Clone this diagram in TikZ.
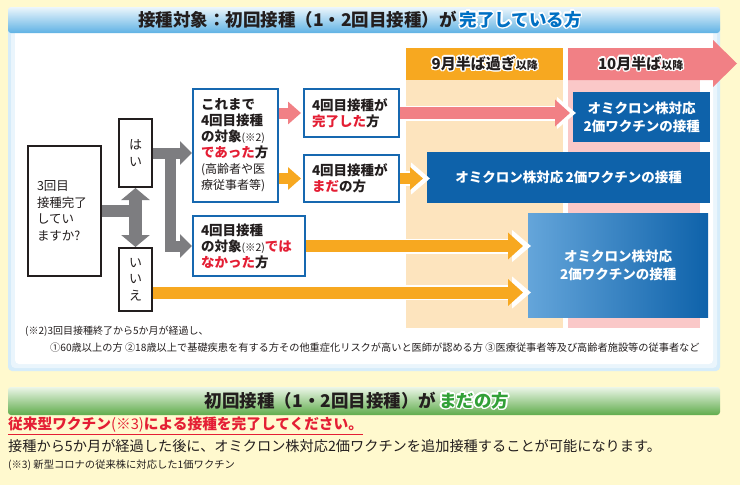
\documentclass[tikz,border=0pt]{standalone}
\usepackage{fontspec}
\setmainfont{Noto Sans CJK JP}
\usepackage{xcolor}
\usepackage[copies]{contour}
\contourlength{1.4pt}
\contournumber{16}
\usetikzlibrary{arrows.meta,calc}

\definecolor{bgyellow}{RGB}{255,249,206}
\definecolor{inkdark}{RGB}{35,30,30}
\definecolor{boxblue}{RGB}{22,104,176}
\definecolor{fillblue}{RGB}{14,98,170}
\definecolor{gradblue}{RGB}{100,165,218}
\definecolor{arrgray}{RGB}{125,125,128}
\definecolor{arrpink}{RGB}{241,128,133}
\definecolor{arrorange}{RGB}{247,168,32}
\definecolor{lightorange}{RGB}{253,228,190}
\definecolor{lightpink}{RGB}{250,200,200}
\definecolor{redtxt}{RGB}{228,30,52}
\definecolor{titleblue}{RGB}{0,112,195}
\definecolor{titlegreen}{RGB}{50,160,55}
\definecolor{paneledge}{RGB}{214,236,250}
\definecolor{panelmid}{RGB}{234,245,252}
\definecolor{bartop}{RGB}{236,246,252}
\definecolor{barbottom}{RGB}{95,178,228}
\definecolor{greentop}{RGB}{236,246,232}
\definecolor{greenbottom}{RGB}{96,172,76}

\newcommand{\notesize}{\mdseries\fontsize{10.5}{16}\selectfont}
\newcommand{\paren}{\mdseries\fontsize{12}{16}\selectfont}

\begin{document}
\begin{tikzpicture}[x=1pt,y=1pt,yscale=-1,xscale=1,
  qbox/.style={draw=inkdark, line width=2pt, fill=white, anchor=north west, inner sep=0pt, align=left, text=inkdark, font=\fontsize{12.5}{16.5}\selectfont},
  ansbox/.style={qbox, align=center, minimum width=33, text width=20, font=\fontsize{13}{16.5}\selectfont},
  casebox/.style={draw=boxblue, line width=2pt, fill=white, anchor=north west, inner sep=0pt, align=left, text=inkdark, font=\fontsize{13.5}{16}\selectfont\bfseries},
  vacbox/.style={fill=fillblue, anchor=north west, inner sep=0pt, align=center, text=white, font=\fontsize{13.5}{17.5}\selectfont\bfseries},
  colhead/.style={anchor=north west, inner sep=0pt, minimum height=32, text=inkdark, font=\fontsize{15}{15}\selectfont\bfseries},
  grayarr/.style={draw=arrgray, line width=11pt, -{Triangle[width=23pt,length=12pt]}},
  shortarr/.style={draw=#1, line width=11pt, shorten >=2pt, -{Triangle[width=22pt,length=13pt]}},
  longarr/.style={draw=#1, line width=12pt, -{Triangle[width=26pt,length=15pt]}},
  whiteedge/.style={preaction={draw=white, line width=15pt, shorten >=-3pt, -{Triangle[width=31pt,length=19pt]}}},
  note/.style={anchor=west, inner sep=0pt, text=inkdark, font=\fontsize{10}{12}\selectfont}
]
%Shape: Rectangle [background]
\fill[bgyellow] (0,0) rectangle (740,485);
\useasboundingbox (0,0) rectangle (740,485);

%Shape: Panel
\fill[paneledge, rounded corners=4] (8,18) rectangle (720,371);
\fill[panelmid, rounded corners=4] (11,21) rectangle (717,368);
\fill[white, rounded corners=4] (15,25) rectangle (713,364);

%Shape: Header bar
\shade[top color=bartop, bottom color=barbottom, rounded corners=3] (8,7) rectangle (720,33);
% Text Node
\draw (360,20) node (title) [text=inkdark, font=\fontsize{17.5}{17.5}\selectfont\bfseries] {接種対象：初回接種（1・2回目接種）が\,{\color{titleblue}\contour{white}{完了している方}}};

%Shape: Columns
\fill[lightorange] (406,80) rectangle (563,328);
\fill[lightpink] (568,80) rectangle (700,328);
\fill[arrpink] (568,48) -- (713,48) -- (713,40) -- (737,63.5) -- (713,87) -- (713,80) -- (568,80) -- cycle;
% Text Node
\draw (406,48) node (sept) [colhead, fill=arrorange, minimum width=157] {\contour{white}{9月半ば過ぎ}{\fontsize{11}{11}\selectfont\contour{white}{以降}}};
% Text Node
\draw (568,48) node (oct) [colhead, minimum width=145] {\contour{white}{10月半ば}{\fontsize{11}{11}\selectfont\contour{white}{以降}}};

% Text Node
\draw (27,145) node (q) [qbox, minimum width=73, minimum height=130, text width=55] {3回目\\接種完了\\してい\\ますか?};
% Text Node
\draw (118,118) node (hai) [ansbox, minimum height=68] {は\\い};
% Text Node
\draw (118,247) node (iie) [ansbox, minimum height=63] {い\\い\\え};
% Text Node
\draw (192,88) node (hasbeen) [casebox, minimum width=85, minimum height=113, text width=69] {これまで\\4回目接種\\の対象{\notesize(※2)}\\{\color{redtxt}であった}方\\{\paren(高齢者や医}\\{\paren 療従事者等)}};
% Text Node
\draw (303,88) node (done) [casebox, minimum width=95, minimum height=48, text width=79] {4回目接種が\\{\color{redtxt}完了した}方};
% Text Node
\draw (303,154) node (notyet) [casebox, minimum width=95, minimum height=47, text width=79] {4回目接種が\\{\color{redtxt}まだ}の方};
% Text Node
\draw (192,215) node (nottarget) [casebox, minimum width=112, minimum height=60, text width=96] {4回目接種\\の対象{\notesize(※2)}{\color{redtxt}では}\\{\color{redtxt}なかった}方};

% Text Node
\draw (573,92) node (vacA) [vacbox, minimum width=137, minimum height=50] {オミクロン株対応\\2価ワクチンの接種};
% Text Node
\draw (427,152) node (vacB) [vacbox, minimum width=283, minimum height=51] {オミクロン株対応\,2価ワクチンの接種};
% Text Node
\draw (528,213) node (vacC) [vacbox, left color=gradblue, right color=fillblue, minimum width=180, minimum height=104, font=\fontsize{13.5}{18}\selectfont\bfseries] {オミクロン株対応\\2価ワクチンの接種};

%Straight Lines
\draw[draw=arrgray, line width=12pt] (q.east) -- (q.east -| hai.south);
\draw[draw=arrgray, line width=13pt, {Triangle[width=28pt,length=12pt]}-{Triangle[width=28pt,length=12pt]}] (hai.south) -- (iie.north);
\draw[grayarr] (hai.east) -- (hai.east -| hasbeen.west);
\draw[grayarr] ($(hai.east)+(17,0)$) |- (nottarget.west);
%Straight Lines
\draw[shortarr=arrpink] (hasbeen.east |- done.west) -- (done.west);
\draw[shortarr=arrorange] (hasbeen.east |- notyet.west) -- (notyet.west);
\draw[longarr=arrpink, whiteedge, shorten >=3pt] (done.east) -- (done.east -| vacA.west);
\draw[shortarr=arrorange, whiteedge, shorten >=4pt] (notyet.east) -- (notyet.east -| vacB.west);
\draw[longarr=arrorange, whiteedge, shorten >=5pt] (nottarget.east) -- (nottarget.east -| vacC.west);
\coordinate (iieout) at ($(iie.east)+(0,13)$);
\draw[longarr=arrorange, whiteedge, shorten >=5pt] (iieout) -- (iieout -| vacC.west);

% Text Node
\draw (25,331) node (fnA) [note] {(※2)3回目接種終了から5か月が経過し、};
% Text Node
\draw (50,348) node (fnB) [note, font=\fontsize{10.2}{12}\selectfont] {①60歳以上の方 ②18歳以上で基礎疾患を有する方その他重症化リスクが高いと医師が認める方 ③医療従事者等及び高齢者施設等の従事者など};

%Shape: Green bar
\shade[top color=greentop, bottom color=greenbottom, rounded corners=3] (8,387) rectangle (720,415);
% Text Node
\draw (357,401) node (first) [text=inkdark, font=\fontsize{17.5}{17.5}\selectfont\bfseries] {初回接種（1・2回目接種）が\,{\color{titlegreen}\contour{white}{まだの方}}};

% Text Node
\draw (8,425) node (must) [anchor=west, inner sep=0pt, text=redtxt, font=\fontsize{14.7}{16}\selectfont\bfseries] {従来型ワクチン{\mdseries(※3)}による接種を完了してください。};
\draw[redtxt, line width=1.5pt] ($(must.south west)+(0,1.5)$) -- ($(must.south east)+(0,1.5)$);
% Text Node
\draw (8,446) node (after) [anchor=west, inner sep=0pt, text=inkdark, font=\fontsize{14.2}{16}\selectfont] {接種から5か月が経過した後に、オミクロン株対応2価ワクチンを追加接種することが可能になります。};
% Text Node
\draw (8,465) node (fnC) [note, font=\fontsize{10.3}{12}\selectfont] {(※3) 新型コロナの従来株に対応した1価ワクチン};

\end{tikzpicture}
\end{document}
